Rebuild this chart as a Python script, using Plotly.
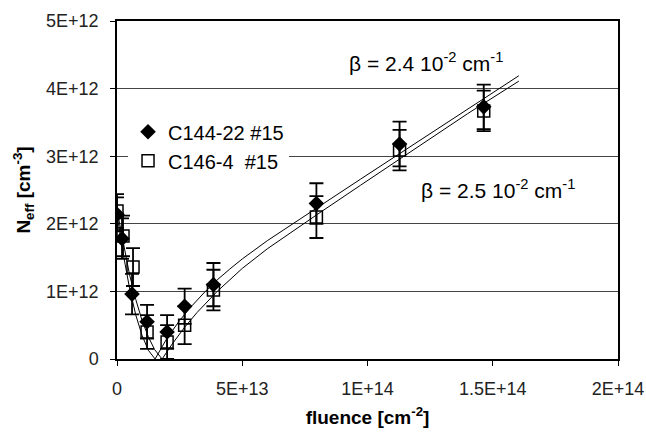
import plotly.graph_objects as go

# Measured data (fluence in cm^-2, Neff in cm^-3)
fluence_a = [0, 2.0e12, 6.0e12, 1.2e13, 2.0e13, 2.7e13, 3.85e13, 7.96e13, 1.128e14, 1.464e14]
neff_a = [2.14e12, 1.78e12, 0.96e12, 0.55e12, 0.40e12, 0.78e12, 1.10e12, 2.30e12, 3.18e12, 3.73e12]
err_a = [0.25e12, 0.3e12, 0.3e12, 0.25e12, 0.25e12, 0.26e12, 0.32e12, 0.3e12, 0.33e12, 0.33e12]

fluence_b = [0, 2.4e12, 6.4e12, 1.2e13, 2.0e13, 2.7e13, 3.85e13, 7.96e13, 1.128e14, 1.464e14]
neff_b = [2.19e12, 1.82e12, 1.36e12, 0.40e12, 0.25e12, 0.50e12, 1.02e12, 2.10e12, 3.09e12, 3.67e12]
err_b = [0.25e12, 0.3e12, 0.28e12, 0.25e12, 0.25e12, 0.28e12, 0.3e12, 0.31e12, 0.3e12, 0.3e12]

# Fit curves
fit_a_x = [0, 0.25e13, 0.5e13, 0.75e13, 1.0e13, 1.25e13, 1.52e13, 2.0e13, 2.5e13, 3.0e13, 3.5e13,
           4.0e13, 4.5e13, 5.0e13, 6.0e13, 7.0e13, 8.0e13, 9.72e13, 12.0e13, 14.0e13, 16.04e13]
fit_a_y = [2.14e12, 1.55e12, 1.05e12, 0.65e12, 0.35e12, 0.13e12, 0.0, 0.31e12, 0.57e12, 0.79e12, 0.99e12,
           1.17e12, 1.33e12, 1.48e12, 1.75e12, 2.00e12, 2.24e12, 2.66e12, 3.21e12, 3.70e12, 4.19e12]
fit_b_x = [0, 0.25e13, 0.5e13, 0.75e13, 1.0e13, 1.25e13, 1.5e13, 1.8e13, 2.2e13, 2.7e13, 3.2e13,
           4.0e13, 5.0e13, 6.0e13, 7.0e13, 8.0e13, 9.72e13, 12.0e13, 14.0e13, 16.04e13]
fit_b_y = [2.20e12, 1.70e12, 1.25e12, 0.88e12, 0.57e12, 0.33e12, 0.14e12, 0.0, 0.22e12, 0.47e12, 0.69e12,
           1.00e12, 1.34e12, 1.63e12, 1.89e12, 2.14e12, 2.57e12, 3.14e12, 3.63e12, 4.11e12]

y_ticks = [0, 1e12, 2e12, 3e12, 4e12, 5e12]
y_tick_labels = ["0", "1E+12", "2E+12", "3E+12", "4E+12", "5E+12"]
x_ticks = [0, 5e13, 1e14, 1.5e14, 2e14]
x_tick_labels = ["0", "5E+13", "1E+14", "1.5E+14", "2E+14"]

FONT = "Liberation Sans, Arial, sans-serif"

fig = go.Figure()
fig.add_trace(go.Scatter(x=fit_a_x, y=fit_a_y, mode="lines",
                         line=dict(color="black", width=1), showlegend=False, hoverinfo="skip"))
fig.add_trace(go.Scatter(x=fit_b_x, y=fit_b_y, mode="lines",
                         line=dict(color="black", width=1), showlegend=False, hoverinfo="skip"))
fig.add_trace(go.Scatter(
    x=fluence_a, y=neff_a, mode="markers", name="C144-22 #15",
    marker=dict(symbol="diamond", size=12, color="black"),
    error_y=dict(type="data", array=err_a, color="black", thickness=1.8, width=7)))
fig.add_trace(go.Scatter(
    x=fluence_b, y=neff_b, mode="markers", name="C146-4\u00a0\u00a0#15",
    marker=dict(symbol="square-open", size=12, color="black", line=dict(width=1.5)),
    error_y=dict(type="data", array=err_b, color="black", thickness=1.8, width=7)))

fig.add_annotation(x=(426 - 117) / 501, y=(359 - 62) / 338, xref="paper", yref="paper",
                   xanchor="center", yanchor="middle",
                   text="β = 2.4 10<sup>-2</sup> cm<sup>-1</sup>", showarrow=False,
                   font=dict(family=FONT, size=21, color="black"))
fig.add_annotation(x=(498 - 117) / 501, y=(359 - 189) / 338, xref="paper", yref="paper",
                   xanchor="center", yanchor="middle",
                   text="β = 2.5 10<sup>-2</sup> cm<sup>-1</sup>", showarrow=False,
                   font=dict(family=FONT, size=21, color="black"))

fig.update_layout(
    width=646, height=433,
    margin=dict(l=117, r=28, t=21, b=74),
    paper_bgcolor="white", plot_bgcolor="white",
    font=dict(family=FONT, color="black"),
    legend=dict(x=0.022, y=0.73, xanchor="left", yanchor="top",
                bgcolor="white", borderwidth=0, itemwidth=30,
                font=dict(family=FONT, size=20, color="black"),
                tracegroupgap=0),
    xaxis=dict(range=[0, 2e14], tickvals=x_ticks, ticktext=x_tick_labels,
               automargin=False,
               showgrid=False, zeroline=False, showline=True, linecolor="black", linewidth=1.5,
               mirror=True, ticks="outside", ticklen=5, tickcolor="black",
               ticklabelstandoff=8,
               tickfont=dict(family=FONT, size=18, color="#222"),
               title=dict(text="<b>fluence [cm<sup>-2</sup>]</b>", standoff=12,
                          font=dict(family=FONT, size=19, color="black"))),
    yaxis=dict(range=[0, 5e12], tickvals=y_ticks, ticktext=y_tick_labels,
               automargin=False,
               showgrid=True, gridcolor="#444", gridwidth=1, zeroline=False,
               showline=True, linecolor="black", linewidth=1.5, mirror=True,
               ticks="outside", ticklen=5, tickcolor="black",
               ticklabelstandoff=8,
               tickfont=dict(family=FONT, size=18, color="#222"),
               title=dict(text="<b>N<sub>eff</sub> [cm<sup>-3</sup>]</b>", standoff=10,
                          font=dict(family=FONT, size=19, color="black"))),
)

fig.write_html("out.html")
